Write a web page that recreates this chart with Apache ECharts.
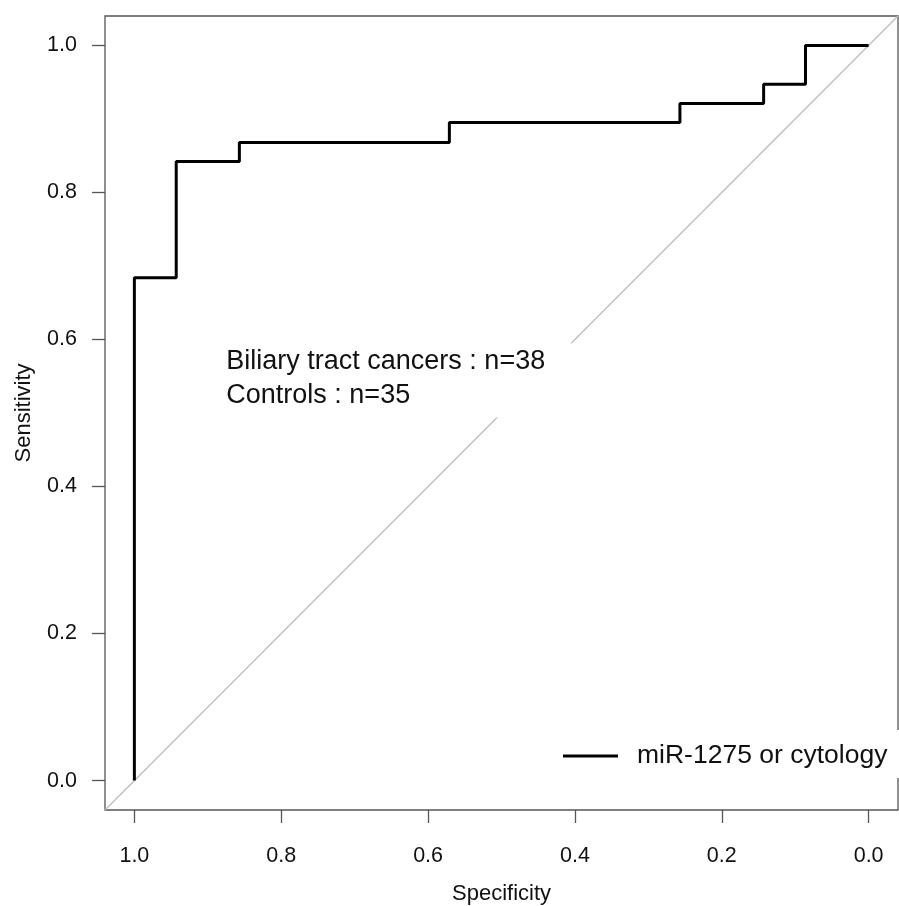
<!DOCTYPE html>
<html>
<head>
<meta charset="utf-8">
<script src="https://cdn.jsdelivr.net/npm/echarts@6/dist/echarts.min.js"></script>
<style>
  html, body { margin: 0; padding: 0; background: #ffffff; }
  #chart { width: 899px; height: 906px; }
</style>
</head>
<body>
<div id="chart"></div>
<script>
// ROC step curve: specificity (x, reversed) vs sensitivity (y)
const specificity = [1.0, 1.0, 0.943, 0.943, 0.857, 0.857, 0.571, 0.571, 0.257, 0.257, 0.143, 0.143, 0.086, 0.086, 0.0];
const sensitivity = [0.0, 0.684, 0.684, 0.842, 0.842, 0.868, 0.868, 0.895, 0.895, 0.921, 0.921, 0.947, 0.947, 1.0, 1.0];

// Tick positions shared by both axes
const tickValues = [0, 0.2, 0.4, 0.6, 0.8, 1.0];

// Axis limits (data range padded by 4% on each side)
const axisMin = -0.04;
const axisMax = 1.04;

const seriesName = 'miR-1275 or cytology';
const noteLines = ['Biliary tract cancers : n=38', 'Controls : n=35'];

// Annotation panel, in data units: [spec, sens] of top-left and bottom-right
const noteBoxTopLeft = [0.89, 0.611];
const noteBoxBottomRight = [0.405, 0.494];
const noteTextAnchor = [0.8748, 0.547];

const FONT = '"Liberation Sans", Arial, Helvetica, sans-serif';
const AXIS_COLOR = '#555555';

const chart = echarts.init(document.getElementById('chart'), null, { renderer: 'canvas' });

const curve = specificity.map((s, i) => [s, sensitivity[i]]);
const diagonal = [[axisMax, axisMin], [axisMin, axisMax]];

const tickLabel = v => v.toFixed(1);

chart.setOption({
  animation: false,
  backgroundColor: '#ffffff',
  grid: {
    left: 105, top: 16, width: 793, height: 794,
    outerBoundsMode: 'none', containLabel: false,
    show: true, borderColor: AXIS_COLOR, borderWidth: 1.3, backgroundColor: 'transparent'
  },
  xAxis: {
    type: 'value', inverse: true, min: axisMin, max: axisMax,
    name: 'Specificity', nameLocation: 'middle', nameGap: 73,
    nameTextStyle: { fontFamily: FONT, fontSize: 22, color: '#111' },
    axisLine: { show: false, onZero: false },
    splitLine: { show: false },
    axisTick: { show: true, length: 13, customValues: tickValues, lineStyle: { color: AXIS_COLOR, width: 1.3 } },
    axisLabel: { customValues: tickValues, formatter: tickLabel, margin: 35, fontFamily: FONT, fontSize: 21.5, color: '#111' }
  },
  yAxis: {
    type: 'value', min: axisMin, max: axisMax,
    name: 'Sensitivity', nameLocation: 'middle', nameGap: 70, nameRotate: 90,
    nameTextStyle: { fontFamily: FONT, fontSize: 22, color: '#111' },
    axisLine: { show: false, onZero: false },
    splitLine: { show: false },
    axisTick: { show: true, length: 13, customValues: tickValues, lineStyle: { color: AXIS_COLOR, width: 1.3 } },
    axisLabel: { customValues: tickValues, formatter: tickLabel, margin: 28, fontFamily: FONT, fontSize: 21.5, color: '#111' }
  },
  legend: {
    data: [seriesName],
    left: 551, top: 730,
    padding: [11, 40, 7, 12],
    backgroundColor: '#ffffff',
    icon: 'path://M0,0 H55 V3 H0 Z',
    itemWidth: 55, itemHeight: 3, itemGap: 0,
    textStyle: { fontFamily: FONT, fontSize: 26.5, color: '#111', lineHeight: 30, padding: [0, 0, 0, 14] },
    selectedMode: false
  },
  series: [
    {
      name: 'chance',
      type: 'line',
      data: diagonal,
      symbol: 'none',
      silent: true,
      lineStyle: { color: '#bdbdbd', width: 1.3 },
      z: 1
    },
    {
      name: seriesName,
      type: 'line',
      data: curve,
      symbol: 'none',
      lineStyle: { color: '#000000', width: 3 },
      itemStyle: { color: '#000000' },
      z: 3
    }
  ]
});

// White annotation panel with the sample sizes, placed in data coordinates
function placeNote() {
  const tl = chart.convertToPixel({ gridIndex: 0 }, noteBoxTopLeft);
  const br = chart.convertToPixel({ gridIndex: 0 }, noteBoxBottomRight);
  const ta = chart.convertToPixel({ gridIndex: 0 }, noteTextAnchor);
  chart.setOption({
    graphic: [
      {
        type: 'rect', z: 2, silent: true,
        shape: { x: tl[0], y: tl[1], width: br[0] - tl[0], height: br[1] - tl[1] },
        style: { fill: '#ffffff' }
      },
      {
        type: 'text', z: 4, silent: true,
        x: ta[0], y: ta[1],
        style: {
          text: noteLines.join('\n'),
          fontFamily: FONT, fontSize: 27, lineHeight: 34,
          fill: '#111', align: 'left', verticalAlign: 'middle'
        }
      }
    ]
  });
}
placeNote();
</script>
</body>
</html>
